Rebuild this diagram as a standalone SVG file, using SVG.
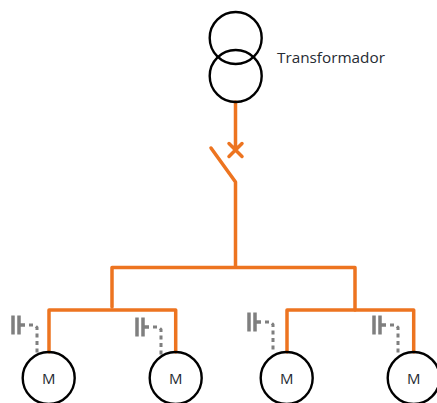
<svg xmlns="http://www.w3.org/2000/svg" width="437" height="403" viewBox="0 0 437 403">
<style>
.o{fill:none;stroke:#ED7420;stroke-width:3.500;stroke-linejoin:round;stroke-linecap:round}
.c{fill:none;stroke:#000;stroke-width:2.400}
.g{fill:none;stroke:#7F7F7F;stroke-width:3.500}
.d{fill:none;stroke:#7F7F7F;stroke-width:3;stroke-dasharray:4 3.500}
text{font-family:"Open Sans","Noto Sans",sans-serif;fill:#262b33}
</style>
<defs>
<g id="cap">
<path class="g" d="M1 0V19M7 0V19M7 9.500H13"/>
<path class="d" d="M17 9.500H22.500L25 12V37"/>
</g>
</defs>
<rect width="437" height="403" fill="#fff"/>
<g id="connectors">
<path class="o" d="M235.500 102V150M229 143.500L242 156.500M242 143.500L229 156.500"/>
<path class="o" d="M211 148L235.500 182V267"/>
<path class="o" d="M112 307V267.500H355V310"/>
<path class="o" d="M49 352V310H175.700V352"/>
<path class="o" d="M287 352V310H413.700V352"/>
</g>
<g id="capacitor-1"><use href="#cap" x="12" y="315.500"/></g>
<g id="capacitor-2"><use href="#cap" x="136" y="317.500"/></g>
<g id="capacitor-3"><use href="#cap" x="248" y="312.500"/></g>
<g id="capacitor-4"><use href="#cap" x="373" y="315.500"/></g>
<g id="transformer">
<circle class="c" cx="235.700" cy="38" r="26"/>
<circle class="c" cx="235.700" cy="76" r="26"/>
<text x="277" y="62.500" font-size="15.300">Transformador</text>
</g>
<g id="motor-1"><circle class="c" cx="48.700" cy="378" r="26"/><text x="48.700" y="384" font-size="15" text-anchor="middle">M</text></g>
<g id="motor-2"><circle class="c" cx="175.700" cy="378" r="26"/><text x="175.700" y="384" font-size="15" text-anchor="middle">M</text></g>
<g id="motor-3"><circle class="c" cx="286.700" cy="378" r="26"/><text x="286.700" y="384" font-size="15" text-anchor="middle">M</text></g>
<g id="motor-4"><circle class="c" cx="413.700" cy="378" r="26"/><text x="413.700" y="384" font-size="15" text-anchor="middle">M</text></g>
</svg>
